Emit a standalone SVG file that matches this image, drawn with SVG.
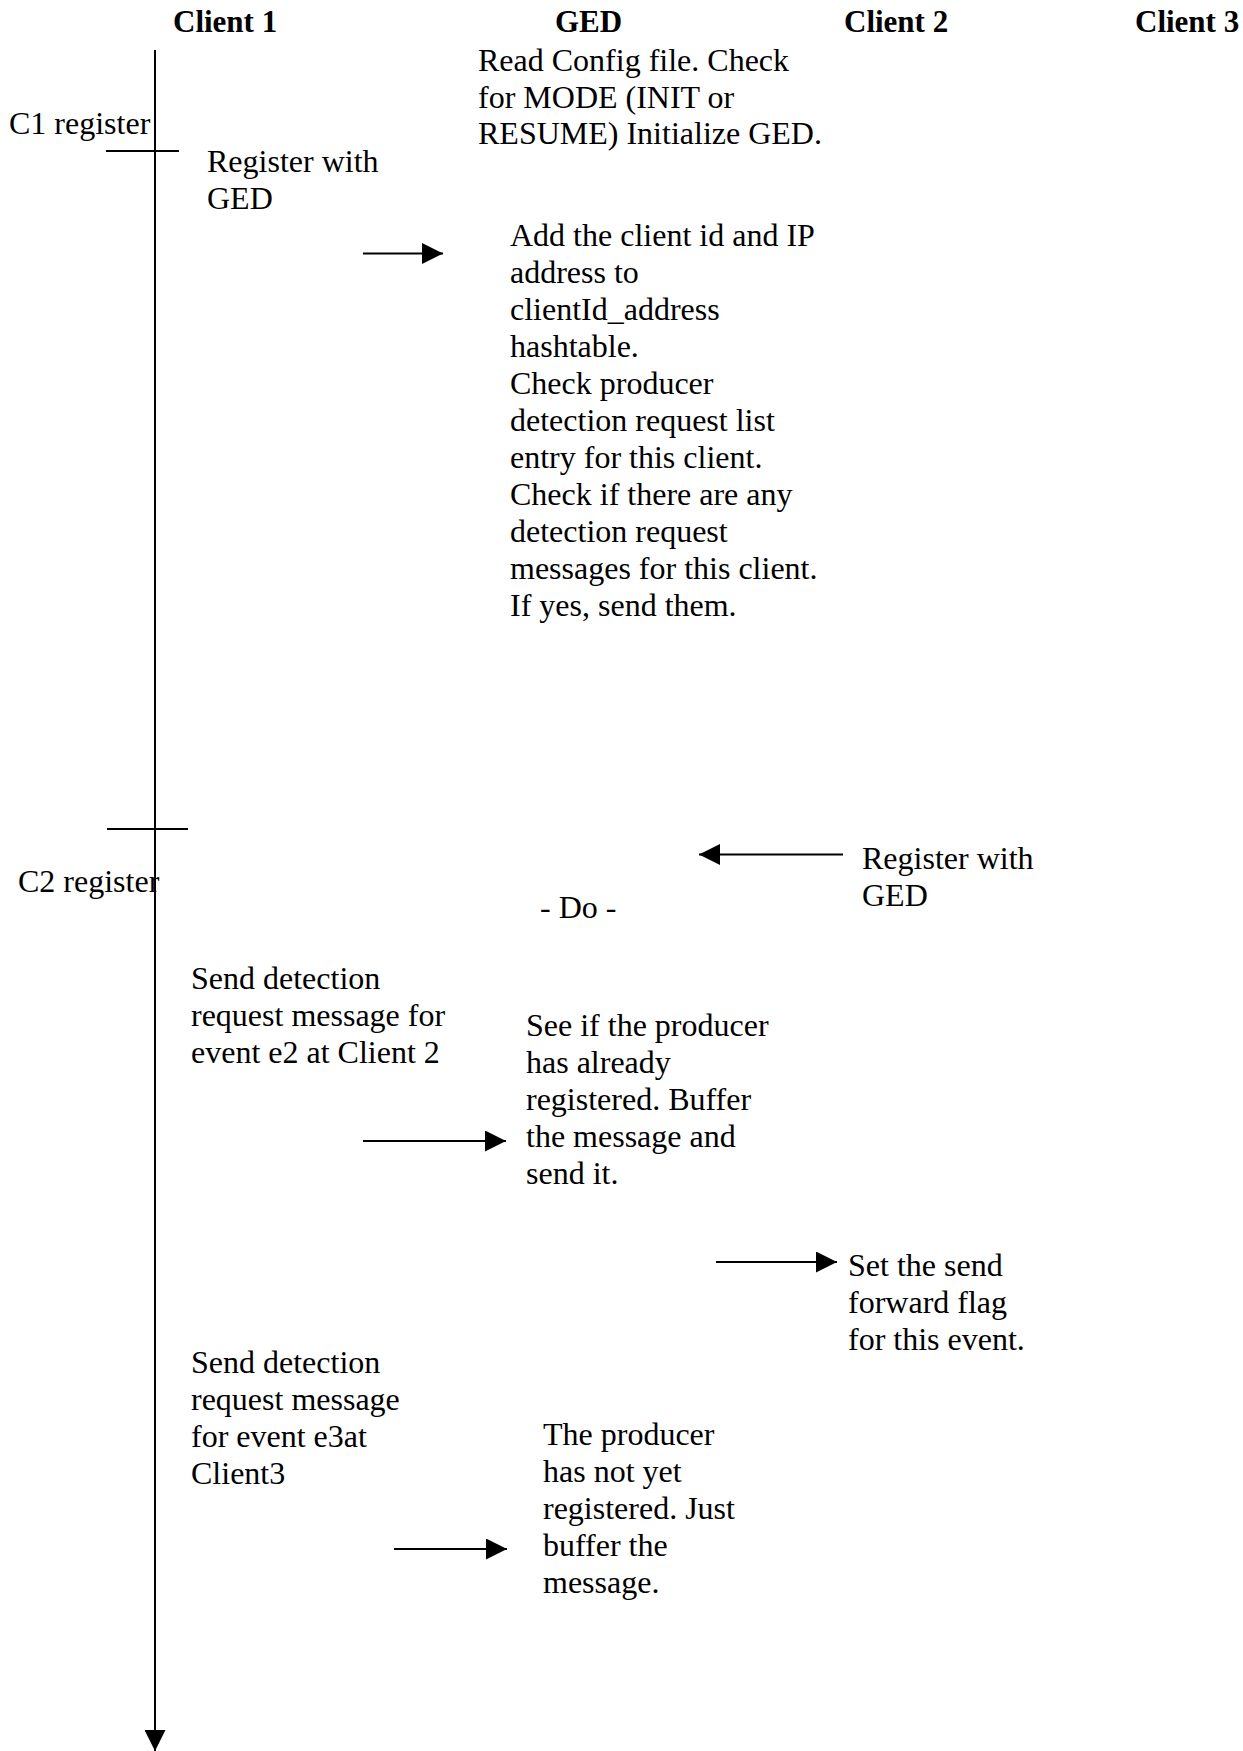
<svg xmlns="http://www.w3.org/2000/svg" width="1243" height="1751" viewBox="0 0 1243 1751">
<style>
.t{font-family:"Liberation Serif","Times New Roman",serif;font-size:32px;fill:#000}
.h{font-family:"Liberation Serif","Times New Roman",serif;font-size:31px;font-weight:bold;fill:#000}
.ln{stroke:#000;stroke-width:2;fill:none}
</style>
<defs>
<marker id="ah" markerUnits="userSpaceOnUse" markerWidth="21" markerHeight="21" refX="21" refY="10.5" orient="auto">
<path d="M0,0 L21,10.5 L0,21 z" fill="#000"/>
</marker>
</defs>
<rect width="1243" height="1751" fill="#fff"/>
<g id="headers">
<text class="h" x="173" y="32">Client 1</text>
<text class="h" x="555" y="32">GED</text>
<text class="h" x="844" y="32">Client 2</text>
<text class="h" x="1135" y="32">Client 3</text>
</g>
<g id="connectors">
<line class="ln" x1="155" y1="50" x2="155" y2="1751" marker-end="url(#ah)"/>
<line class="ln" x1="106" y1="151" x2="179" y2="151"/>
<line class="ln" x1="107" y1="829" x2="188" y2="829"/>
<line class="ln" x1="363" y1="253.5" x2="443" y2="253.5" marker-end="url(#ah)"/>
<line class="ln" x1="843" y1="854.5" x2="699" y2="854.5" marker-end="url(#ah)"/>
<line class="ln" x1="363" y1="1141" x2="506" y2="1141" marker-end="url(#ah)"/>
<line class="ln" x1="716" y1="1262" x2="837" y2="1262" marker-end="url(#ah)"/>
<line class="ln" x1="394" y1="1549" x2="507" y2="1549" marker-end="url(#ah)"/>
</g>
<g id="c1-register"><text class="t" x="9" y="134">C1 register</text></g>
<g id="c2-register"><text class="t" x="18" y="892">C2 register</text></g>
<g id="ged-init">
<text class="t" x="478" y="71">Read Config file. Check</text>
<text class="t" x="478" y="108">for MODE (INIT or</text>
<text class="t" x="478" y="144">RESUME) Initialize GED.</text>
</g>
<g id="c1-register-msg">
<text class="t" x="207" y="172">Register with</text>
<text class="t" x="207" y="209">GED</text>
</g>
<g id="ged-add-client">
<text class="t" x="510" y="246">Add the client id and IP</text>
<text class="t" x="510" y="283">address to</text>
<text class="t" x="510" y="320">clientId_address</text>
<text class="t" x="510" y="357">hashtable.</text>
<text class="t" x="510" y="394">Check producer</text>
<text class="t" x="510" y="431">detection request list</text>
<text class="t" x="510" y="468">entry for this client.</text>
<text class="t" x="510" y="505">Check if there are any</text>
<text class="t" x="510" y="542">detection request</text>
<text class="t" x="510" y="579">messages for this client.</text>
<text class="t" x="510" y="616">If yes, send them.</text>
</g>
<g id="c2-register-msg">
<text class="t" x="862" y="869">Register with</text>
<text class="t" x="862" y="906">GED</text>
</g>
<g id="ged-do"><text class="t" x="540" y="918">- Do -</text></g>
<g id="c1-send-e2">
<text class="t" x="191" y="989">Send detection</text>
<text class="t" x="191" y="1026">request message for</text>
<text class="t" x="191" y="1063">event e2 at Client 2</text>
</g>
<g id="ged-check-producer">
<text class="t" x="526" y="1036">See if the producer</text>
<text class="t" x="526" y="1073">has already</text>
<text class="t" x="526" y="1110">registered. Buffer</text>
<text class="t" x="526" y="1147">the message and</text>
<text class="t" x="526" y="1184">send it.</text>
</g>
<g id="c2-set-flag">
<text class="t" x="848" y="1276">Set the send</text>
<text class="t" x="848" y="1313">forward flag</text>
<text class="t" x="848" y="1350">for this event.</text>
</g>
<g id="c1-send-e3">
<text class="t" x="191" y="1373">Send detection</text>
<text class="t" x="191" y="1410">request message</text>
<text class="t" x="191" y="1447">for event e3at</text>
<text class="t" x="191" y="1484">Client3</text>
</g>
<g id="ged-buffer">
<text class="t" x="543" y="1445">The producer</text>
<text class="t" x="543" y="1482">has not yet</text>
<text class="t" x="543" y="1519">registered. Just</text>
<text class="t" x="543" y="1556">buffer the</text>
<text class="t" x="543" y="1593">message.</text>
</g>
</svg>
